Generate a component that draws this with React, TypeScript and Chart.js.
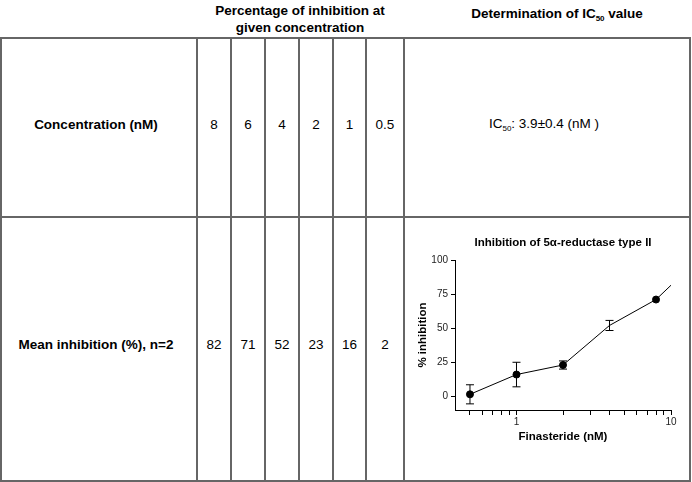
import React, { useEffect, useRef } from "react";
import { Chart, registerables } from "chart.js";

Chart.register(...registerables);

// ---- table data ----
const concentrations = ["8", "6", "4", "2", "1", "0.5"];
const meanInhibition = ["82", "71", "52", "23", "16", "2"];
const ic50Text = "3.9±0.4 (nM )";

// ---- chart data ----
const chartConc = [0.5, 1, 2, 4, 8, 10];
const chartMean = [1.5, 16, 23, 52, 71, 81.5];
const chartErr = [7, 9, 3, 3.7, 0, 0];
const chartPointRadius = [3.5, 3.5, 3.5, 0, 3.5, 0];
const xMinorTicks = [0.5, 0.6, 0.7, 0.8, 0.9, 1, 2, 3, 4, 5, 6, 7, 8, 9, 10];
const xLabelTicks = [1, 10];
const yTicks = [0, 25, 50, 75, 100];

const FONT = "'Liberation Sans', Arial, Helvetica, sans-serif";
const LINE = "#666";

const colLines = [197, 231, 265, 299, 333, 366, 404];

const errorBarPlugin = {
  id: "errorBars",
  afterDatasetsDraw(chart: any) {
    const ctx = chart.ctx;
    const xs = chart.scales.x;
    const ys = chart.scales.y;
    ctx.save();
    ctx.strokeStyle = "#000";
    ctx.lineWidth = 1;
    chartConc.forEach((c, i) => {
      const e = chartErr[i];
      if (!e) return;
      const x = xs.getPixelForValue(c);
      const yT = ys.getPixelForValue(chartMean[i] + e);
      const yB = ys.getPixelForValue(chartMean[i] - e);
      ctx.beginPath();
      ctx.moveTo(x, yT);
      ctx.lineTo(x, yB);
      ctx.moveTo(x - 4, yT);
      ctx.lineTo(x + 4, yT);
      ctx.moveTo(x - 4, yB);
      ctx.lineTo(x + 4, yB);
      ctx.stroke();
    });
    ctx.restore();
  },
};

function InhibitionChart() {
  const ref = useRef<HTMLCanvasElement | null>(null);
  useEffect(() => {
    if (!ref.current) return;
    const chart = new Chart(ref.current, {
      type: "line",
      data: {
        datasets: [
          {
            data: chartConc.map((c, i) => ({ x: c, y: chartMean[i] })),
            borderColor: "#000",
            borderWidth: 1,
            backgroundColor: "#000",
            pointBackgroundColor: "#000",
            pointBorderColor: "#000",
            pointRadius: chartPointRadius,
            tension: 0,
          },
        ],
      },
      options: {
        responsive: false,
        animation: false,
        devicePixelRatio: 1,
        layout: { padding: { left: 0, right: 18, top: 0, bottom: 0 } },
        plugins: {
          legend: { display: false },
          tooltip: { enabled: false },
          title: {
            display: true,
            fullSize: false,
            text: "Inhibition of 5α-reductase type II",
            color: "#000",
            font: { family: FONT, size: 11.5, weight: "bold" },
            padding: { top: 11, bottom: 10.2 },
          },
        },
        scales: {
          x: {
            type: "logarithmic",
            min: 0.4,
            max: 10,
            afterBuildTicks: (s: any) => {
              s.ticks = xMinorTicks.map((v) => ({ value: v }));
            },
            afterFit: (s: any) => {
              s.height = 50;
            },
            ticks: {
              autoSkip: false,
              maxRotation: 0,
              padding: 1,
              color: "#222",
              font: { family: FONT, size: 10 },
              callback: (v: any) => (xLabelTicks.includes(Number(v)) ? String(v) : ""),
            },
            grid: {
              drawOnChartArea: false,
              tickLength: 5,
              color: "#000",
            },
            border: { display: true, color: "#000", width: 1 },
            title: {
              display: true,
              text: "Finasteride (nM)",
              color: "#000",
              font: { family: FONT, size: 11.5, weight: "bold" },
              padding: { top: 0, bottom: 16 },
            },
          },
          y: {
            type: "linear",
            min: -10,
            max: 100,
            afterBuildTicks: (s: any) => {
              s.ticks = yTicks.map((v) => ({ value: v }));
            },
            afterFit: (s: any) => {
              s.width = 50;
            },
            ticks: {
              padding: 3,
              color: "#222",
              font: { family: FONT, size: 10 },
            },
            grid: {
              drawOnChartArea: false,
              tickLength: 4,
              color: "#000",
            },
            border: { display: true, color: "#000", width: 1 },
            title: {
              display: true,
              text: "% inhibition",
              color: "#000",
              font: { family: FONT, size: 11.5, weight: "bold" },
              padding: { top: 11, bottom: 0 },
            },
          },
        },
      },
      plugins: [errorBarPlugin],
    } as any);
    return () => chart.destroy();
  }, []);
  return (
    <canvas
      ref={ref}
      width={284}
      height={235}
      style={{ position: "absolute", left: 405, top: 225, width: 284, height: 235 }}
    />
  );
}

const centered = (x: number, y: number, extra: React.CSSProperties = {}): React.CSSProperties => ({
  position: "absolute",
  left: x,
  top: y,
  transform: "translate(-50%, -50%)",
  whiteSpace: "nowrap",
  fontFamily: FONT,
  fontSize: 13.5,
  color: "#000",
  lineHeight: "16px",
  ...extra,
});

export default function App() {
  const hLine = (y: number) => (
    <div key={"h" + y} style={{ position: "absolute", left: 0, top: y - 1, width: 691, height: 2, background: LINE }} />
  );
  const vLine = (x: number) => (
    <div key={"v" + x} style={{ position: "absolute", left: x - 1, top: 37, width: 2, height: 445, background: LINE }} />
  );
  const colCenters = colLines.slice(0, -1).map((x, i) => (x + colLines[i + 1]) / 2);
  return (
    <div style={{ position: "absolute", left: 0, top: 0, width: 692, height: 482, background: "#fff", overflow: "hidden" }}>
      <div style={centered(300, 11, { fontWeight: "bold" })}>Percentage of inhibition at</div>
      <div style={centered(300, 28, { fontWeight: "bold" })}>given concentration</div>
      <div style={centered(557, 14, { fontWeight: "bold" })}>
        Determination of IC<sub style={{ fontSize: 8, verticalAlign: "-3px", lineHeight: 0 }}>50</sub> value
      </div>

      {hLine(38)}
      {hLine(217)}
      {hLine(481)}
      {vLine(1)}
      {colLines.map((x) => vLine(x))}
      {vLine(690)}

      <div style={centered(96, 125, { fontWeight: "bold" })}>Concentration (nM)</div>
      <div style={centered(96, 345, { fontWeight: "bold" })}>Mean inhibition (%), n=2</div>
      {concentrations.map((c, i) => (
        <div key={"c" + i} style={centered(colCenters[i], 125)}>{c}</div>
      ))}
      {meanInhibition.map((m, i) => (
        <div key={"m" + i} style={centered(colCenters[i], 345)}>{m}</div>
      ))}
      <div style={centered(544, 124)}>
        IC<sub style={{ fontSize: 8, verticalAlign: "-3px", lineHeight: 0 }}>50</sub>: {ic50Text}
      </div>

      <InhibitionChart />
    </div>
  );
}
